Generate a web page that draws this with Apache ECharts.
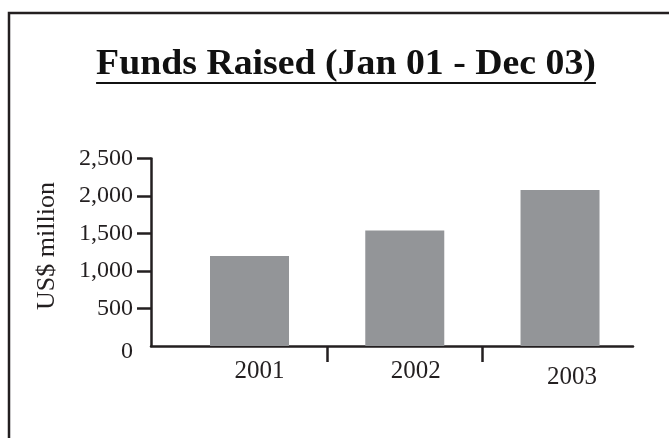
<!DOCTYPE html>
<html><head><meta charset="utf-8">
<script src="https://cdn.jsdelivr.net/npm/echarts@6/dist/echarts.min.js"></script>
<style>html,body{margin:0;padding:0;background:#fff}#c{width:669px;height:438px}</style>
</head><body><div id="c"></div>
<script>
const chartTitle = 'Funds Raised (Jan 01 - Dec 03)';
const yAxisName = 'US$ million';
const categories = ['2001', '2002', '2003'];
const funds = [1200, 1540, 2080];
const yTickValues = [500, 1000, 1500, 2000, 2500];

const serif = '"Liberation Serif", "DejaVu Serif", serif';
const ink = '#231f20';
const chart = echarts.init(document.getElementById('c'), null, {renderer: 'canvas'});

const titleFont = 'bold 36px ' + serif;
const titleScaleX = 1.05;
const ctx = document.createElement('canvas').getContext('2d');
ctx.font = titleFont;
const titleWidth = ctx.measureText(chartTitle).width * titleScaleX;
const titleCx = 346;

const labelRich = {
  l0: {fontFamily: serif, fontSize: 25, color: ink, padding: [0, 0, 0, 20]},
  l1: {fontFamily: serif, fontSize: 25, color: ink, padding: [0, 0, 0, 22]},
  l2: {fontFamily: serif, fontSize: 25, color: ink, padding: [6, 0, 0, 24]}
};

const option = {
  animation: false,
  backgroundColor: '#fff',
  graphic: [
    {type: 'rect', shape: {x: 9, y: 13, width: 720, height: 500},
     style: {fill: 'none', stroke: ink, lineWidth: 2.5}},
    {type: 'text', x: titleCx, y: 65, scaleX: titleScaleX,
     style: {text: chartTitle, font: titleFont, fill: '#111',
             textAlign: 'center', textVerticalAlign: 'middle'}},
    {type: 'line', shape: {x1: titleCx - titleWidth / 2, y1: 83, x2: titleCx + titleWidth / 2, y2: 83},
     style: {stroke: '#111', lineWidth: 2}},
    {type: 'text', x: 47, y: 246, rotation: Math.PI / 2,
     style: {text: yAxisName, font: '26px ' + serif, fill: ink,
             textAlign: 'center', textVerticalAlign: 'middle'}}
  ],
  grid: {left: 151, right: 36, top: 158.5, bottom: 92},
  xAxis: {
    type: 'value', min: -0.6345, max: 2.470,
    axisLine: {show: true, onZero: false, lineStyle: {color: ink, width: 2.5}},
    axisTick: {show: true, customValues: [0.5, 1.5], length: 16, lineStyle: {color: ink, width: 2.5}},
    axisLabel: {
      customValues: [0, 1, 2], margin: 13,
      fontFamily: serif, fontSize: 25, color: ink,
      formatter: function (v) { const i = Math.round(v); return '{l' + i + '|' + categories[i] + '}'; },
      rich: labelRich
    },
    splitLine: {show: false}
  },
  yAxis: {
    type: 'value', min: 0, max: 2500, interval: 500,
    axisLine: {show: true, onZero: false, lineStyle: {color: ink, width: 2.5}},
    axisTick: {show: true, customValues: yTickValues, length: 14, lineStyle: {color: ink, width: 2.5}},
    axisLabel: {margin: 18, fontFamily: serif, fontSize: 24, color: ink,
      formatter: function (v) { return v === 0 ? '{z|0}' : v.toLocaleString('en-US'); },
      rich: {z: {fontFamily: serif, fontSize: 24, color: ink, padding: [11, 0, 0, 0]}}},
    splitLine: {show: false}
  },
  series: [{
    type: 'bar',
    data: funds.map(function (v, i) { return [i, v]; }),
    barWidth: 79,
    itemStyle: {color: '#939598'}
  }]
};
chart.setOption(option);
</script>
</body></html>
